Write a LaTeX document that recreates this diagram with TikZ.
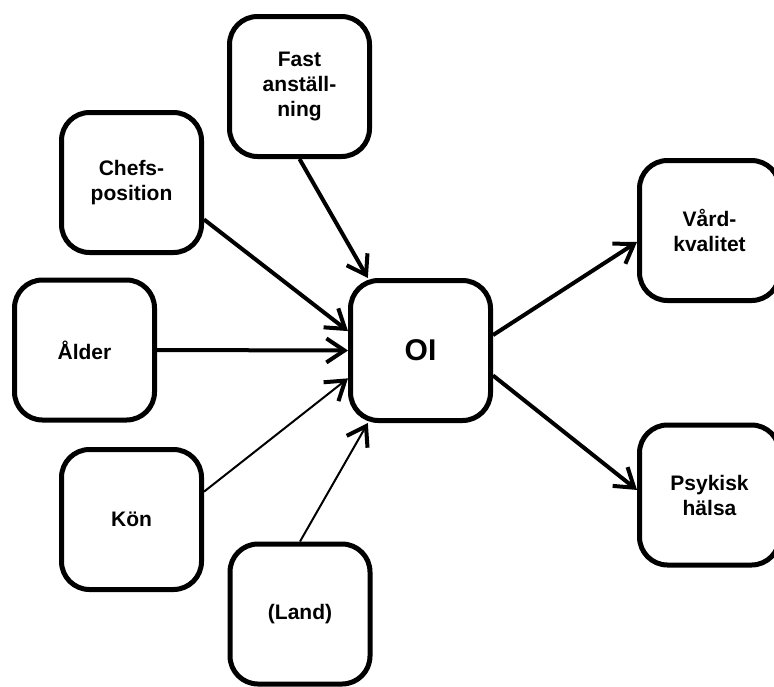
\documentclass[tikz,border=0pt]{standalone}
\usepackage{fontspec}
\setmainfont{Liberation Sans}
\usetikzlibrary{arrows.meta}
\begin{document}
\begin{tikzpicture}[x=0.5pt,y=-0.5pt,
	box/.style={draw,line width=2.5pt,rounded corners=14pt,minimum size=70pt,inner sep=0pt,align=center,font=\bfseries\fontsize{10.5}{12.5}\selectfont},
	heavy/.style={line width=2pt},
	light/.style={line width=1pt},
	>={Straight Barb[length=9pt,width=12pt,line width=2pt]}]
	\useasboundingbox (0,0) rectangle (774,686);

	\node[box] (fast) at (299.5,86.5) {Fast\\anställ-\\ning};
	\node[box] (chef) at (131.5,182.5) {Chefs-\\position};
	\node[box] (alder) at (84.5,350) {Ålder};
	\node[box] (kon) at (131.5,519.5) {Kön};
	\node[box] (land) at (300,614) {(Land)};
	\node[box,font=\bfseries\fontsize{15}{18}\selectfont] (oi) at (420.5,350.5) {OI};
	\node[box] (vard) at (709.5,230.5) {Vård-\\kvalitet};
	\node[box] (psyk) at (709.5,495) {Psykisk\\hälsa};

	\draw[heavy,->] (fast.south) -- (oi.126);
	\draw[heavy,->] (chef.-27) -- (oi.165);
	\draw[heavy,->] (alder.east) -- (oi.west);
	\draw[light,->] (kon.21) -- (oi.-159);
	\draw[light,->] (land.north) -- (oi.-126);
	\draw[heavy,->] (oi.12) -- (vard.189);
	\draw[heavy,->] (oi.-19) -- (psyk.176);
\end{tikzpicture}
\end{document}
